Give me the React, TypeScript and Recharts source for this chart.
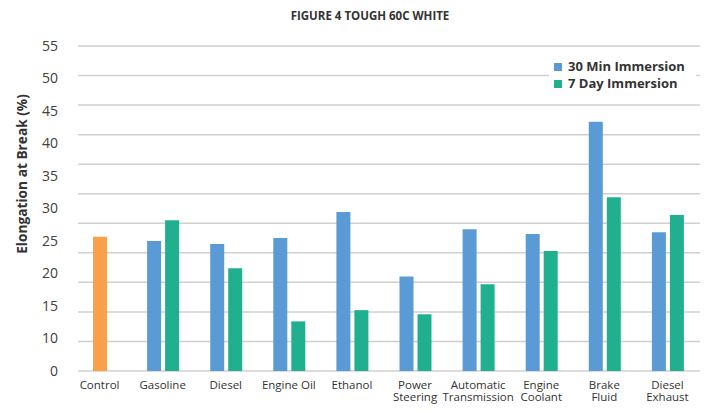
import React from "react";
import { BarChart, Bar, XAxis, YAxis, CartesianGrid } from "recharts";

// elongation at break after immersion in various fluids
const categories = [
  "Control",
  "Gasoline",
  "Diesel",
  "Engine Oil",
  "Ethanol",
  "Power\nSteering\nFluid",
  "Automatic\nTransmission\nFluid",
  "Engine\nCoolant",
  "Brake\nFluid",
  "Diesel\nExhaust\nFluid",
];
const control = [22.7, null, null, null, null, null, null, null, null, null];
const min30 = [null, 22.0, 21.5, 22.5, 26.9, 16.0, 24.0, 23.2, 42.2, 23.5];
const day7 = [null, 25.5, 17.4, 8.4, 10.3, 9.6, 14.7, 20.3, 29.4, 26.4];

// gridlines run every 5, but the printed labels skip "5" and are spread evenly
const gridValues = [0, 5, 10, 15, 20, 25, 30, 35, 40, 45, 50, 55];
const yTickLabels = ["0", "10", "15", "20", "25", "30", "35", "40", "45", "50", "55"];
const yMax = 55;
const labelStep = yMax / (yTickLabels.length - 1);
const labelTicks = yTickLabels.map((_, i) => i * labelStep);

const data = categories.map((name, i) => ({
  name,
  control: control[i],
  min30: min30[i],
  day7: day7[i],
}));

const BLUE = "#5B9BD5";
const GREEN = "#20B08F";
const ORANGE = "#F8A04A";
const FONT = "'Open Sans', 'Noto Sans', sans-serif";

const XTick = (props: any) => {
  const { x, y, payload } = props;
  const lines = String(payload.value).split("\n");
  return (
    <text x={x} y={y} textAnchor="middle" fill="#333" fontSize={11.5} fontFamily={FONT}>
      {lines.map((l, i) => (
        <tspan key={i} x={x} dy={i === 0 ? 17.5 : 12.5}>
          {l}
        </tspan>
      ))}
    </text>
  );
};

const App = () => {
  return (
    <div
      style={{
        position: "relative",
        width: 700,
        height: 404,
        marginBottom: -8,
        overflow: "hidden",
        fontFamily: FONT,
      }}
    >
      <div
        style={{
          position: "absolute",
          left: 0,
          width: 724,
          top: 0,
          textAlign: "center",
          fontSize: 11.5,
          fontWeight: 700,
          color: "#333",
        }}
      >
        FIGURE 4 TOUGH 60C WHITE
      </div>
      <BarChart
        width={700}
        height={404}
        data={data}
        margin={{ top: 38, right: 5, left: 0, bottom: 0 }}
        barGap={4}
        barSize={14}
      >
        <CartesianGrid
          vertical={false}
          stroke="#d0d0d0"
          strokeWidth={1.5}
          horizontalValues={gridValues}
        />
        <XAxis
          dataKey="name"
          interval={0}
          axisLine={false}
          tickLine={false}
          tickSize={0}
          tickMargin={0}
          height={41}
          padding={{ left: -10, right: 4 }}
          tick={<XTick />}
        />
        <XAxis xAxisId="ctrl" dataKey="name" hide padding={{ left: -10, right: 4 }} height={41} />
        <YAxis
          domain={[0, yMax]}
          ticks={labelTicks}
          tickFormatter={(v: number) => yTickLabels[Math.round(v / labelStep)]}
          axisLine={false}
          tickLine={false}
          tickSize={0}
          tickMargin={20}
          width={70}
          tick={{ fill: "#404040", fontSize: 14, fontFamily: FONT }}
        />
        <Bar xAxisId="ctrl" dataKey="control" fill={ORANGE} isAnimationActive={false} />
        <Bar dataKey="min30" fill={BLUE} isAnimationActive={false} />
        <Bar dataKey="day7" fill={GREEN} isAnimationActive={false} />
      </BarChart>
      <div style={{ position: "absolute", left: 12.5, top: 166, width: 0, height: 0 }}>
        <div
          style={{
            position: "absolute",
            transform: "translate(-50%, -50%) rotate(-90deg)",
            whiteSpace: "nowrap",
            fontSize: 13.7,
            fontWeight: 700,
            color: "#333",
          }}
        >
          Elongation at Break (%)
        </div>
      </div>
      <div
        style={{
          position: "absolute",
          left: 541,
          top: 49,
          width: 142,
          background: "#fff",
          fontSize: 13,
          fontWeight: 700,
          color: "#333",
          lineHeight: "17px",
          padding: "1px 0 1px 5px",
        }}
      >
        {[
          { label: "30 Min Immersion", color: BLUE },
          { label: "7 Day Immersion", color: GREEN },
        ].map((it) => (
          <div key={it.label} style={{ display: "flex", alignItems: "center" }}>
            <span
              style={{ width: 8, height: 8, background: it.color, marginRight: 6, display: "inline-block" }}
            />
            {it.label}
          </div>
        ))}
      </div>
    </div>
  );
};

export default App;
